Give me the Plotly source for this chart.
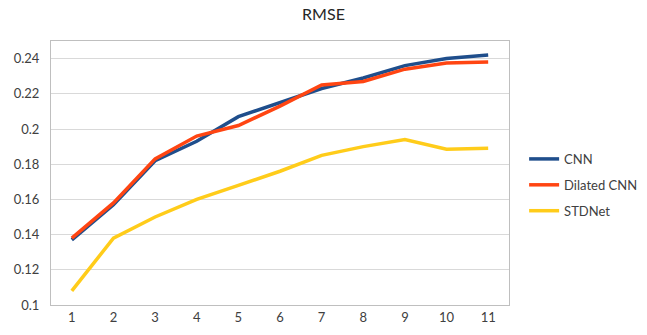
import plotly.graph_objects as go

categories = ["1", "2", "3", "4", "5", "6", "7", "8", "9", "10", "11"]
cnn = [0.137, 0.157, 0.182, 0.193, 0.207, 0.215, 0.223, 0.229, 0.236, 0.240, 0.242]
dilated_cnn = [0.138, 0.158, 0.183, 0.196, 0.202, 0.213, 0.225, 0.227, 0.234, 0.2375, 0.238]
stdnet = [0.108, 0.138, 0.150, 0.160, 0.168, 0.176, 0.185, 0.190, 0.194, 0.1885, 0.189]
y_ticks = [0.1, 0.12, 0.14, 0.16, 0.18, 0.2, 0.22, 0.24]
y_tick_labels = ["0.1", "0.12", "0.14", "0.16", "0.18", "0.2", "0.22", "0.24"]

series = [
    ("CNN", cnn, "#1F4E8C"),
    ("Dilated CNN", dilated_cnn, "#FF4512"),
    ("STDNet", stdnet, "#FFCC1A"),
]

fig = go.Figure()
for name, vals, color in series:
    fig.add_trace(go.Scatter(
        x=categories, y=vals, name=name, mode="lines",
        line=dict(color=color, width=3.5), legendgroup=name,
    ))

font_family = "Lato, 'Open Sans', Arial, sans-serif"
fig.update_layout(
    width=647, height=335,
    margin=dict(l=51, r=138, t=41, b=30, autoexpand=False),
    paper_bgcolor="white", plot_bgcolor="white",
    title=dict(text="RMSE", x=0.5, xref="container", xanchor="center",
               y=1 - 14 / 335, yref="container", yanchor="middle",
               font=dict(family=font_family, size=16, color="#262626")),
    font=dict(family=font_family, size=13, color="#404040"),
    xaxis=dict(type="category", range=[-0.5, 10.5], showgrid=False, automargin=False,
               showline=True, linecolor="#BFBFBF", linewidth=1, mirror=True,
               ticks="", tickfont=dict(size=13, color="#404040")),
    yaxis=dict(range=[0.1, 0.25], tickvals=y_ticks, ticktext=y_tick_labels, automargin=False,
               showgrid=True, gridcolor="#D9D9D9", gridwidth=1,
               showline=True, linecolor="#BFBFBF", linewidth=1, mirror=True,
               zeroline=False, ticks="", ticklabelstandoff=8,
               tickfont=dict(size=13, color="#404040")),
    legend=dict(x=1.033, xanchor="left", y=0.61, yanchor="top",
                font=dict(size=13, color="#404040"), tracegroupgap=6,
                traceorder="grouped", itemwidth=30, bgcolor="rgba(0,0,0,0)"),
)

fig.write_html("out.html", config={"displayModeBar": False},
               post_script="document.body.style.margin='0px';")
